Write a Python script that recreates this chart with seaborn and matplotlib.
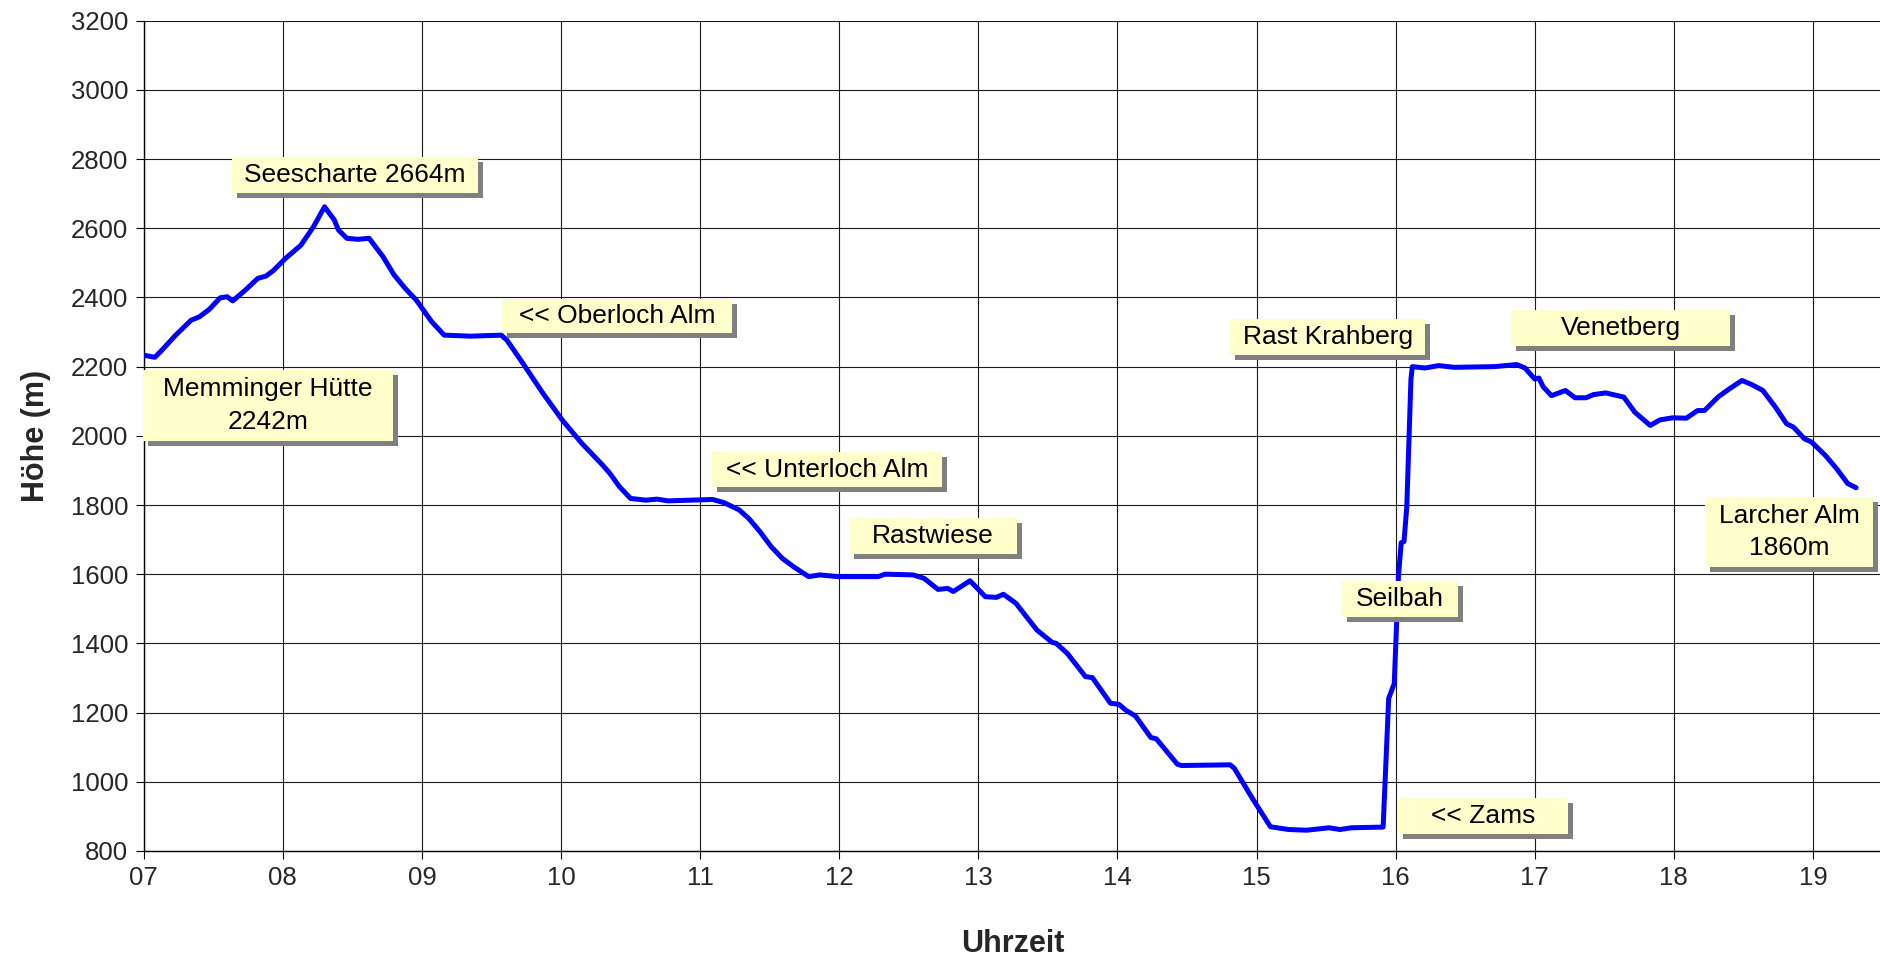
import matplotlib
matplotlib.use("Agg")
import matplotlib.pyplot as plt
import matplotlib.patheffects as pe
from matplotlib.patches import Rectangle
import numpy as np
import pandas as pd
import seaborn as sns

# track: time of day (decimal hours) and altitude (m)
uhrzeit = [7.00, 7.08, 7.12, 7.18, 7.23, 7.34, 7.40, 7.47, 7.55, 7.60, 7.64, 7.73,
           7.82, 7.88, 7.93, 8.02, 8.13, 8.22, 8.30, 8.37, 8.40, 8.46, 8.54, 8.62,
           8.72, 8.80, 8.88, 8.96, 9.07, 9.16, 9.35, 9.57, 9.61, 9.71, 9.87, 10.01,
           10.15, 10.30, 10.35, 10.42, 10.50, 10.61, 10.69, 10.77, 11.09, 11.17,
           11.28, 11.35, 11.43, 11.51, 11.59, 11.67, 11.78, 11.86, 11.99, 12.28,
           12.33, 12.53, 12.61, 12.71, 12.78, 12.82, 12.94, 13.05, 13.13, 13.18,
           13.27, 13.42, 13.53, 13.56, 13.64, 13.77, 13.82, 13.95, 14.01, 14.06,
           14.13, 14.24, 14.28, 14.43, 14.46, 14.81, 14.84, 14.97, 15.10, 15.23,
           15.36, 15.52, 15.60, 15.68, 15.91, 15.95, 15.99, 16.02, 16.04, 16.06,
           16.08, 16.10, 16.11, 16.12, 16.21, 16.31, 16.42, 16.71, 16.87, 16.93,
           17.00, 17.03, 17.06, 17.12, 17.22, 17.29, 17.37, 17.42, 17.51, 17.64,
           17.72, 17.83, 17.90, 17.99, 18.09, 18.17, 18.22, 18.32, 18.40, 18.49,
           18.56, 18.64, 18.73, 18.81, 18.86, 18.94, 18.99, 19.09, 19.17, 19.25,
           19.31]
hoehe = [2233, 2227, 2243, 2269, 2291, 2334, 2344, 2365, 2399, 2402, 2390, 2421,
         2455, 2462, 2477, 2513, 2551, 2604, 2662, 2624, 2595, 2571, 2568, 2571,
         2518, 2465, 2426, 2392, 2330, 2291, 2288, 2291, 2277, 2219, 2123, 2045,
         1978, 1915, 1892, 1853, 1819, 1814, 1817, 1812, 1816, 1807,
         1786, 1761, 1723, 1680, 1646, 1622, 1593, 1598, 1593, 1593,
         1600, 1598, 1588, 1556, 1559, 1550, 1581, 1535, 1533, 1542,
         1516, 1439, 1403, 1400, 1371, 1304, 1301, 1227, 1224, 1207,
         1190, 1128, 1124, 1051, 1047, 1049, 1039, 952, 870, 862,
         860, 867, 862, 867, 869, 1241, 1284, 1593, 1691, 1694,
         1794, 2035, 2164, 2200, 2196, 2203, 2198, 2200, 2206, 2196,
         2164, 2167, 2142, 2116, 2131, 2110, 2110, 2119, 2124, 2112,
         2068, 2030, 2046, 2052, 2051, 2073, 2073, 2113, 2136, 2160,
         2148, 2131, 2083, 2035, 2025, 1991, 1982, 1943, 1905, 1862,
         1850]

x_ticks = list(range(7, 20))
x_ticklabels = ["%02d" % h for h in x_ticks]
y_ticks = list(range(800, 3201, 200))

# waypoint labels: text and box (x0, x1 in hours, y0, y1 in m)
labels = ["Seescharte 2664m", "Memminger Hütte\n2242m", "<< Oberloch Alm",
          "<< Unterloch Alm", "Rastwiese", "Rast Krahberg", "Venetberg",
          "Seilbah", "<< Zams", "Larcher Alm\n1860m"]
label_x0 = [7.635, 6.995, 9.576, 11.085, 12.070, 14.810, 16.830, 15.615, 16.017, 18.224]
label_x1 = [9.403, 8.792, 11.229, 12.739, 13.278, 16.212, 18.404, 16.449, 17.239, 19.431]
label_y0 = [2702, 1985, 2298, 1852, 1659, 2234, 2260, 1477, 849, 1621]
label_y1 = [2806, 2191, 2396, 1953, 1763, 2338, 2364, 1581, 953, 1823]

df = pd.DataFrame({"Uhrzeit": uhrzeit, "Höhe": hoehe})

sns.set_style("white")
plt.rcParams["font.family"] = ["Liberation Sans", "DejaVu Sans"]

fig = plt.figure(figsize=(18.81, 9.57), dpi=100)
ax = fig.add_axes([0.0764, 0.1108, 0.9244, 0.8676])

sns.lineplot(data=df, x="Uhrzeit", y="Höhe", sort=False, estimator=None,
             color="#0000FF", linewidth=3.6, ax=ax, zorder=3)

ax.set_xlim(7, 19.5)
ax.set_ylim(800, 3200)
ax.set_xticks(x_ticks)
ax.set_xticklabels(x_ticklabels)
ax.set_yticks(y_ticks)
ax.grid(True, color="#1a1a1a", linewidth=0.8)
ax.set_axisbelow(True)
ax.tick_params(axis="both", direction="out", length=6, width=0.8, color="black",
               labelsize=18.5, pad=5, left=True, bottom=True)
for s in ["top", "right"]:
    ax.spines[s].set_visible(False)
for s in ["left", "bottom"]:
    ax.spines[s].set_color("black")
    ax.spines[s].set_linewidth(1.0)

ax.set_xlabel("Uhrzeit", fontsize=22, fontweight="bold", labelpad=28)
ax.set_ylabel("Höhe (m)", fontsize=22, fontweight="bold", labelpad=14)

shadow = [pe.withSimplePatchShadow(offset=(3.6, -3.6), shadow_rgbFace="#808080", alpha=1.0),
          pe.Normal()]
for text, x0, x1, y0, y1 in zip(labels, label_x0, label_x1, label_y0, label_y1):
    box = Rectangle((x0, y0), x1 - x0, y1 - y0, facecolor="#FFFFCC",
                    edgecolor="none", zorder=5, clip_on=False)
    box.set_path_effects(shadow)
    ax.add_patch(box)
    ax.text((x0 + x1) / 2, (y0 + y1) / 2, text, ha="center", va="center",
            fontsize=19, color="black", zorder=6, linespacing=1.45)

fig.savefig("out.png", dpi=100)
